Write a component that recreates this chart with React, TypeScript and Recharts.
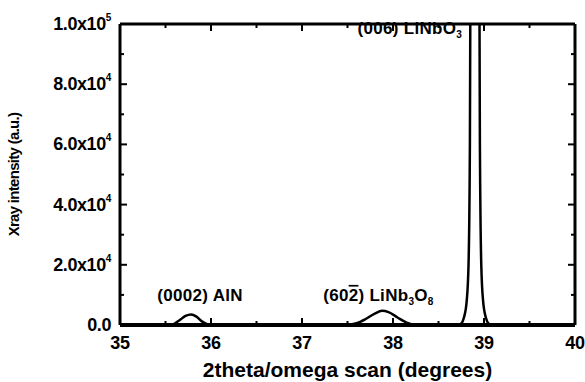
import React from "react";
import {
  LineChart,
  Line,
  XAxis,
  YAxis,
  ReferenceDot,
  ReferenceLine,
} from "recharts";

// 2theta/omega scan
const twoTheta = [
  35.0, 35.5, 35.58, 35.65, 35.72, 35.78, 35.84, 35.9, 35.97, 36.05,
  37.0, 37.5, 37.6, 37.7, 37.8, 37.88, 37.95, 38.05, 38.15, 38.25, 38.4,
  38.72, 38.75, 38.78, 38.81, 38.83, 38.845, 38.86, 38.9, 38.94, 38.955,
  38.97, 38.99, 39.02, 39.05, 39.08, 40.0,
];
const intensity = [
  0, 0, 200, 1500, 3000, 3500, 2800, 1200, 200, 0,
  0, 100, 600, 2000, 3800, 4700, 4300, 2500, 800, 100, 0,
  0, 500, 2500, 8000, 20000, 60000, 200000, 300000, 200000, 60000,
  20000, 8000, 2500, 500, 0, 0,
];

const xTicks = [35, 35.5, 36, 36.5, 37, 37.5, 38, 38.5, 39, 39.5, 40];
const yTicks = [0, 10000, 20000, 30000, 40000, 50000, 60000, 70000, 80000, 90000, 100000];
const yMajor: Record<number, [string, string]> = {
  0: ["0.0", ""],
  20000: ["2.0x10", "4"],
  40000: ["4.0x10", "4"],
  60000: ["6.0x10", "4"],
  80000: ["8.0x10", "4"],
  100000: ["1.0x10", "5"],
};

const data = twoTheta.map((t, i) => ({ t, y: intensity[i] }));

const X_DOM: [number, number] = [35, 40];
const Y_DOM: [number, number] = [0, 100000];

const W = 585;
const H = 382;
const M = { top: 24, right: 10, left: 0, bottom: 0 };
const Y_W = 120;
const X_H = 57;
const PLOT_W = W - M.right - Y_W;
const PLOT_H = H - M.top - X_H;

// inward tick lengths (px) turned into data units
const MAJ = 7;
const MIN = 4;
const pxX = (px: number) => (px / PLOT_W) * (X_DOM[1] - X_DOM[0]);
const pxY = (px: number) => (px / PLOT_H) * (Y_DOM[1] - Y_DOM[0]);

const FONT = '"Liberation Sans", Arial, sans-serif';
const INK = "#000";

const BottomTick = (props: any) => {
  const { x, y, payload } = props;
  const v = payload.value;
  if (!Number.isInteger(v)) return <g />;
  return (
    <text x={x} y={y + 24} textAnchor="middle" fontFamily={FONT} fontWeight="bold" fontSize={18} fill={INK} letterSpacing={-0.3}>
      {v}
    </text>
  );
};

const LeftTick = (props: any) => {
  const { x, y, payload } = props;
  const lab = yMajor[payload.value];
  if (!lab) return <g />;
  return (
    <text x={x - 9} y={y + 6} textAnchor="end" fontFamily={FONT} fontWeight="bold" fontSize={18} fill={INK} letterSpacing={-0.4}>
      <tspan>{lab[0]}</tspan>
      {lab[1] && (
        <tspan dy={-9} fontSize={10}>
          {lab[1]}
        </tspan>
      )}
    </text>
  );
};

const txt = { fontFamily: FONT, fontWeight: "bold" as const, fontSize: 17, fill: INK, letterSpacing: 0.3 };

const AlnLabel = (props: any) => {
  const { viewBox } = props;
  const cx = viewBox.x + viewBox.width / 2;
  const cy = viewBox.y + viewBox.height / 2;
  return (
    <text x={cx} y={cy + 6} textAnchor="middle" {...txt}>
      (0002) AlN
    </text>
  );
};

const Lnb38Label = (props: any) => {
  const { viewBox } = props;
  const cx = viewBox.x + viewBox.width / 2;
  const cy = viewBox.y + viewBox.height / 2;
  return (
    <text x={cx} y={cy + 6} textAnchor="middle" {...txt}>
      <tspan>(60</tspan>
      <tspan style={{ textDecoration: "overline" }}>2</tspan>
      <tspan>) LiNb</tspan>
      <tspan dy={4} fontSize={10}>3</tspan>
      <tspan dy={-4}>O</tspan>
      <tspan dy={4} fontSize={10}>8</tspan>
    </text>
  );
};

const LnoLabel = (props: any) => {
  const { viewBox } = props;
  const cx = viewBox.x + viewBox.width / 2;
  const cy = viewBox.y + viewBox.height / 2;
  return (
    <text x={cx} y={cy + 6} textAnchor="end" {...txt}>
      <tspan>(006) LiNbO</tspan>
      <tspan dy={4} fontSize={10}>3</tspan>
    </text>
  );
};

const ids = { xAxisId: "b", yAxisId: "l" };

export default function App() {
  return (
    <div style={{ position: "absolute", left: 0, top: 0, background: "#fff" }}>
      <LineChart width={W} height={H} data={data} margin={M}>
        <XAxis
          xAxisId="b"
          dataKey="t"
          type="number"
          domain={X_DOM}
          ticks={xTicks}
          interval={0}
          allowDataOverflow
          height={X_H}
          tickSize={0}
          tickMargin={0}
          tickLine={false}
          axisLine={false}
          tick={<BottomTick />}
          label={{
            value: "2theta/omega scan (degrees)",
            position: "insideBottom",
            offset: 5,
            style: { fontFamily: FONT, fontWeight: "bold", fontSize: 21, fill: INK, textAnchor: "middle" },
          }}
        />
        <YAxis
          yAxisId="l"
          type="number"
          domain={Y_DOM}
          ticks={yTicks}
          interval={0}
          allowDataOverflow
          width={Y_W}
          tickSize={0}
          tickMargin={0}
          tickLine={false}
          axisLine={false}
          tick={<LeftTick />}
          label={{
            value: "Xray intensity (a.u.)",
            angle: -90,
            position: "insideLeft",
            offset: 14,
            style: { fontFamily: FONT, fontWeight: "bold", fontSize: 15, fill: INK, textAnchor: "middle", letterSpacing: -0.7 },
          }}
        />
        <Line
          {...ids}
          type="monotone"
          dataKey="y"
          stroke={INK}
          strokeWidth={2.5}
          dot={false}
          isAnimationActive={false}
        />
        {/* inward ticks on all four sides */}
        {xTicks.map((v) => {
          const d = pxY(Number.isInteger(v) ? MAJ : MIN);
          return (
            <React.Fragment key={`xt${v}`}>
              <ReferenceLine {...ids} segment={[{ x: v, y: Y_DOM[0] }, { x: v, y: Y_DOM[0] + d }]} stroke={INK} strokeWidth={2} />
              <ReferenceLine {...ids} segment={[{ x: v, y: Y_DOM[1] }, { x: v, y: Y_DOM[1] - d }]} stroke={INK} strokeWidth={2} />
            </React.Fragment>
          );
        })}
        {yTicks.map((v) => {
          const d = pxX(yMajor[v] ? MAJ : MIN);
          return (
            <React.Fragment key={`yt${v}`}>
              <ReferenceLine {...ids} segment={[{ x: X_DOM[0], y: v }, { x: X_DOM[0] + d, y: v }]} stroke={INK} strokeWidth={2} />
              <ReferenceLine {...ids} segment={[{ x: X_DOM[1], y: v }, { x: X_DOM[1] - d, y: v }]} stroke={INK} strokeWidth={2} />
            </React.Fragment>
          );
        })}
        {/* frame */}
        <ReferenceLine {...ids} y={Y_DOM[0]} stroke={INK} strokeWidth={4} />
        <ReferenceLine {...ids} y={Y_DOM[1]} stroke={INK} strokeWidth={3} />
        <ReferenceLine {...ids} x={X_DOM[0]} stroke={INK} strokeWidth={3} />
        <ReferenceLine {...ids} x={X_DOM[1]} stroke={INK} strokeWidth={3} />
        <ReferenceDot {...ids} x={35.88} y={10000} r={1} fill="none" stroke="none" label={<AlnLabel />} />
        <ReferenceDot {...ids} x={37.84} y={10000} r={1} fill="none" stroke="none" label={<Lnb38Label />} />
        <ReferenceDot {...ids} x={38.76} y={98800} r={1} fill="none" stroke="none" label={<LnoLabel />} />
      </LineChart>
    </div>
  );
}
